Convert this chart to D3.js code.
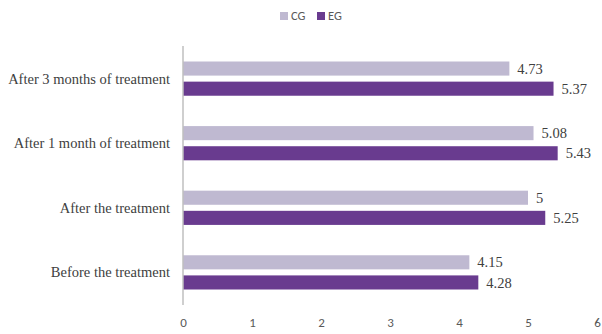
<!DOCTYPE html>
<html>
<head>
<meta charset="utf-8">
<script src="https://cdn.jsdelivr.net/npm/d3@7/dist/d3.min.js"></script>
<style>
  body { margin: 0; background: #fff; }
  svg { display: block; }
</style>
</head>
<body>
<div id="chart"></div>
<script>
// Stages, top to bottom
const categories = [
  "After 3 months of treatment",
  "After 1 month of treatment",
  "After the treatment",
  "Before the treatment"
];
const seriesNames = ["CG", "EG"];
const cgValues = [4.73, 5.08, 5, 4.15];
const egValues = [5.37, 5.43, 5.25, 4.28];
const xTicks = [0, 1, 2, 3, 4, 5, 6];
const colors = ["#bfb9d1", "#693b8f"];

const W = 602, H = 334;
const svg = d3.select("#chart").append("svg").attr("width", W).attr("height", H);

const x = d3.scaleLinear().domain([0, 6]).range([183, 597]);
const y = d3.scaleBand().domain(categories).range([46, 305]).paddingInner(0.47).paddingOuter(0.24);
const sub = d3.scaleBand().domain(seriesNames).range([0, y.bandwidth()]).paddingInner(0.3);

const rows = categories.map((c, i) => ({ cat: c, vals: [cgValues[i], egValues[i]] }));

const serif = "'Liberation Serif', 'Times New Roman', serif";
const sans = "Carlito, 'Open Sans', 'Liberation Sans', sans-serif";

// bars with value labels
const g = svg.append("g");
rows.forEach(r => {
  r.vals.forEach((v, j) => {
    const yy = y(r.cat) + sub(seriesNames[j]);
    g.append("rect")
      .attr("x", x(0)).attr("y", yy)
      .attr("width", x(v) - x(0)).attr("height", sub.bandwidth())
      .attr("fill", colors[j]);
    g.append("text")
      .attr("x", x(v) + 8).attr("y", yy + sub.bandwidth() / 2)
      .attr("dy", "0.35em")
      .attr("font-family", serif)
      .attr("font-size", 14.5).attr("fill", "#404040")
      .text(v);
  });
});

// vertical category axis line
svg.append("line")
  .attr("x1", x(0)).attr("x2", x(0))
  .attr("y1", 46).attr("y2", 305)
  .attr("stroke", "#bfbfbf").attr("stroke-width", 1.5);

// category labels
svg.append("g").selectAll("text").data(categories).join("text")
  .attr("x", 170).attr("y", d => y(d) + y.bandwidth() / 2)
  .attr("dy", "0.35em").attr("text-anchor", "end")
  .attr("font-family", serif)
  .attr("font-size", 14.5).attr("fill", "#404040")
  .text(d => d);

// value axis tick labels
const xAxis = svg.append("g").attr("transform", "translate(0,322)")
  .call(d3.axisBottom(x).tickValues(xTicks).tickSize(0).tickPadding(0).tickFormat(d3.format("d")));
xAxis.select(".domain").remove();
xAxis.selectAll("text")
  .attr("dy", "0.35em")
  .attr("font-family", sans)
  .attr("font-size", 13).attr("fill", "#595959");

// legend
const legend = svg.append("g");
const legendX = [280, 317];
seriesNames.forEach((s, j) => {
  legend.append("rect").attr("x", legendX[j]).attr("y", 12).attr("width", 8).attr("height", 8).attr("fill", colors[j]);
  legend.append("text").attr("x", legendX[j] + 11).attr("y", 16).attr("dy", "0.35em")
    .attr("font-family", sans)
    .attr("font-size", 12.5).attr("fill", "#595959").text(s);
});
</script>
</body>
</html>
